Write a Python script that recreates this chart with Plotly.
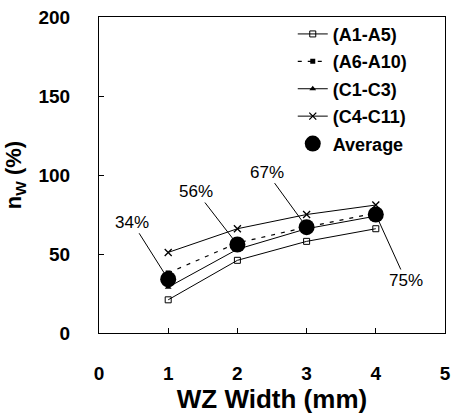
import plotly.graph_objects as go

widths = [1, 2, 3, 4]
a1_a5 = [21, 46, 58, 66]
a6_a10 = [38, 57, 67, 76]
c1_c3 = [29, 53, 66, 74]
c4_c11 = [51, 66, 75, 81]
average = [34, 56, 67, 75]
avg_labels = ["34%", "56%", "67%", "75%"]

FONT = "Liberation Sans, Arial, sans-serif"

fig = go.Figure()
fig.add_trace(go.Scatter(x=widths, y=a1_a5, name="(A1-A5)", mode="lines+markers",
                         line=dict(color="black", width=1),
                         marker=dict(symbol="square-open", size=6, color="black", line=dict(width=1)),
                         legendgroup="a"))
fig.add_trace(go.Scatter(x=widths, y=a6_a10, name="(A6-A10)", mode="lines+markers",
                         line=dict(color="black", width=1.2, dash="4px,6px"),
                         marker=dict(symbol="square", size=5, color="black"),
                         legendgroup="b"))
fig.add_trace(go.Scatter(x=widths, y=c1_c3, name="(C1-C3)", mode="lines+markers",
                         line=dict(color="black", width=1),
                         marker=dict(symbol="triangle-up", size=6, color="black"),
                         legendgroup="c"))
fig.add_trace(go.Scatter(x=widths, y=c4_c11, name="(C4-C11)", mode="lines+markers",
                         line=dict(color="black", width=1),
                         marker=dict(symbol="x-thin", size=7, color="black", line=dict(width=1.3, color="black")),
                         legendgroup="d"))
fig.add_trace(go.Scatter(x=widths, y=average, name="Average", mode="markers",
                         marker=dict(symbol="circle", size=16, color="black"),
                         legendgroup="e"))

offsets = [(-36, -57), (-41, -53), (-40, -55), (30, 66)]
for xv, yv, lab, (ax, ay) in zip(widths, average, avg_labels, offsets):
    fig.add_annotation(x=xv, y=yv, xref="x", yref="y", text=lab, showarrow=True,
                       arrowhead=0, arrowwidth=1, arrowcolor="black", ax=ax, ay=ay,
                       standoff=0, font=dict(family=FONT, size=17, color="black"))

axis_common = dict(showline=True, linecolor="black", linewidth=1, mirror=True,
                   ticks="inside", ticklen=5, tickcolor="black", showgrid=False, zeroline=False,
                   ticklabeloverflow="allow", automargin=False,
                   tickfont=dict(family=FONT, size=19, color="black", weight="bold"))
fig.update_xaxes(range=[0, 5], dtick=1, ticklabelstandoff=23,
                 title=dict(text="WZ Width (mm)", standoff=6,
                            font=dict(family=FONT, size=26, color="black", weight="bold")),
                 **axis_common)
fig.update_yaxes(range=[0, 200], dtick=50, ticklabelstandoff=24,
                 title=dict(text="n<sub>W</sub> (%)", standoff=10,
                            font=dict(family=FONT, size=22, color="black", weight="bold")),
                 **axis_common)

fig.update_layout(
    width=451, height=416,
    margin=dict(l=99, r=6, t=17, b=83),
    paper_bgcolor="white", plot_bgcolor="white",
    showlegend=True,
    legend=dict(x=0.56, y=1.004, xanchor="left", yanchor="top", bgcolor="rgba(0,0,0,0)",
                font=dict(family=FONT, size=18, color="black", weight="bold"),
                tracegroupgap=1),
    font=dict(family=FONT, color="black"),
)

fig.write_html("out.html", config={"displayModeBar": False},
               post_script="document.body.style.margin='0';document.body.style.overflow='hidden';")
